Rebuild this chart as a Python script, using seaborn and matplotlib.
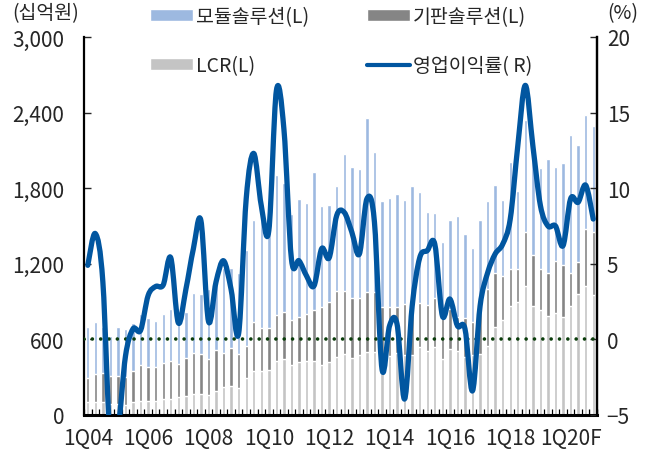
import numpy as np
import pandas as pd
import matplotlib
matplotlib.use("Agg")
import matplotlib.pyplot as plt
import seaborn as sns
from matplotlib.path import Path
from matplotlib.patches import PathPatch, Patch
from matplotlib.lines import Line2D

# 1Q04 ~ 4Q20F, 분기별 매출 (십억원) 및 영업이익률 (%)
quarters = [f"{q}Q{y:02d}" for y in range(4, 21) for q in range(1, 5)]
tick_labels = ["1Q04", "1Q06", "1Q08", "1Q10", "1Q12", "1Q14", "1Q16", "1Q18", "1Q20F"]

total = [700, 735, 695, 630, 695, 685, 730, 805, 770, 750, 805, 840, 820, 815, 965, 960,
         1000, 1040, 1170, 1165, 1130, 1310, 1545, 1550, 1560, 1905, 1840, 1595, 1715, 1685, 1925, 1660,
         1665, 1815, 2070, 1965, 1950, 2360, 2090, 1695, 1720, 1755, 1710, 1815, 1770, 1615, 1605, 1375,
         1550, 1580, 1435, 1325, 1550, 1695, 1825, 1710, 2010, 1780, 2345, 2190, 1960, 2035, 1965, 2000,
         2220, 2145, 2380, 2295]
lcr_sub = [294, 325, 333, 312, 311, 302, 352, 397, 378, 378, 413, 426, 405, 450, 492, 484,
           444, 519, 492, 532, 484, 550, 738, 688, 688, 794, 820, 757, 775, 802, 836, 855,
           899, 981, 987, 929, 929, 979, 979, 855, 855, 855, 881, 870, 891, 875, 929, 840,
           840, 775, 770, 735, 855, 1000, 1127, 1106, 1159, 1159, 1455, 1270, 1159, 1127, 1225, 1190,
           1127, 1217, 1476, 1450]
lcr = [100, 106, 100, 87, 87, 80, 103, 108, 108, 114, 127, 127, 146, 151, 167, 167,
       159, 193, 220, 228, 212, 294, 352, 347, 357, 431, 444, 399, 418, 431, 431, 399,
       418, 458, 484, 450, 476, 497, 497, 458, 466, 492, 476, 476, 537, 510, 537, 444,
       524, 510, 458, 480, 484, 545, 696, 757, 865, 894, 1026, 865, 836, 783, 810, 775,
       863, 960, 1026, 950]
margin = [4.9, 7.0, 3.8, -7.0, -6.0, -1.1, 0.7, 0.6, 2.9, 3.5, 3.6, 5.4, 1.1, 3.3, 6.0, 7.85,
          1.2, 3.8, 5.2, 3.3, 0.4, 9.3, 12.3, 8.85, 7.2, 16.45, 13.9, 5.3, 5.2, 4.2, 3.55, 6.0,
          5.4, 8.2, 8.4, 7.1, 5.65, 9.3, 7.75, -1.96, 0.9, 1.0, -3.94, 2.2, 5.4, 5.87, 6.3, 1.57,
          2.67, 0.9, 0.7, -3.4, 2.2, 4.4, 5.65, 6.3, 7.96, 12.8, 16.8, 12.8, 8.85, 7.5, 7.5, 6.2,
          9.3, 9.07, 10.2, 7.96]

df = pd.DataFrame({"q": quarters, "total": total, "lcr_sub": lcr_sub, "lcr": lcr, "margin": margin})

c_module = "#9DB9E0"
c_sub = "#858585"
c_lcr = "#C4C4C4"
c_line = "#0156A0"

sns.set_style("ticks")
plt.rcParams["font.family"] = ["Liberation Sans Narrow", "Noto Sans CJK KR", "DejaVu Sans"]

fig = plt.figure(figsize=(6.5, 4.56), dpi=100)
ax = fig.add_axes([84 / 650, 1 - 416 / 456, (597 - 84) / 650, (416 - 38) / 456])

# stacked bars: draw cumulative totals on top of each other
x = np.arange(len(df))
sns.barplot(x=x, y=df["total"], color=c_module, width=0.45, saturation=1, errorbar=None, ax=ax)
sns.barplot(x=x, y=df["lcr_sub"], color=c_sub, width=0.45, saturation=1, errorbar=None, ax=ax)
sns.barplot(x=x, y=df["lcr"], color=c_lcr, width=0.45, saturation=1, errorbar=None, ax=ax)

ax.set_xlim(-0.5, len(df) - 0.5)
ax.set_ylim(0, 3000)
ax.set_yticks(range(0, 3001, 600))
ax.set_yticklabels([f"{v:,}" for v in range(0, 3001, 600)])
ax.set_xticks(np.arange(-0.5, len(df), 1))
ax.set_xticklabels([])
ax.set_xticks(np.arange(0, len(df), 8), minor=True)
ax.set_xticklabels(tick_labels, minor=True)
ax.tick_params(axis="x", which="major", direction="in", length=4, width=1, color="black")
ax.tick_params(axis="x", which="minor", length=0, pad=9, labelsize=15)
ax.tick_params(axis="y", direction="in", length=5, width=1, pad=14, labelsize=15)
ax.set_xlabel("")
ax.set_ylabel("")
for s in ["left", "right"]:
    ax.spines[s].set_linewidth(1.6)
    ax.spines[s].set_color("black")
ax.spines["bottom"].set_linewidth(2.2)
ax.spines["bottom"].set_color("black")
ax.spines["top"].set_visible(False)

ax2 = ax.twinx()
ax2.set_ylim(-5, 20)
ax2.set_yticks(range(-5, 21, 5))
ax2.set_yticklabels(["\u22125", "0", "5", "10", "15", "20"])
ax2.tick_params(axis="y", direction="in", length=5, width=1, pad=7, labelsize=15)
ax2.spines["top"].set_visible(False)
ax2.spines["right"].set_linewidth(1.6)
ax2.spines["right"].set_color("black")
ax2.spines["left"].set_visible(False)
ax2.spines["bottom"].set_visible(False)

ax2.axhline(0, color="#0B3D0B", lw=2.6, linestyle=(0, (0.01, 2.3)), dash_capstyle="round", zorder=2)

# Excel-style smoothed line (Catmull-Rom as cubic Bezier)
ym = df["margin"].to_numpy()
n = len(x)
verts = [(x[0], ym[0])]
codes = [Path.MOVETO]
for i in range(n - 1):
    xp, yp = (x[i - 1], ym[i - 1]) if i > 0 else (x[i], ym[i])
    xn, yn = (x[i + 2], ym[i + 2]) if i + 2 < n else (x[i + 1], ym[i + 1])
    c1 = (x[i] + (x[i + 1] - xp) / 6, ym[i] + (ym[i + 1] - yp) / 6)
    c2 = (x[i + 1] - (xn - x[i]) / 6, ym[i + 1] - (yn - ym[i]) / 6)
    verts += [c1, c2, (x[i + 1], ym[i + 1])]
    codes += [Path.CURVE4] * 3
ax2.add_patch(PathPatch(Path(verts, codes), facecolor="none", edgecolor=c_line,
                        lw=3.8, capstyle="round", joinstyle="round", zorder=3))

fig.text(12 / 650, 1 - 14 / 456, "(십억원)", fontsize=14, ha="left", va="center")
fig.text(607 / 650, 1 - 14 / 456, "(%)", fontsize=14, ha="left", va="center")

handles = [Patch(facecolor=c_module), Patch(facecolor=c_lcr),
           Patch(facecolor=c_sub), Line2D([], [], color=c_line, lw=3)]
labels = ["모듈솔루션(L)", "LCR(L)", "기판솔루션(L)", "영업이익률( R)"]
fig.legend(handles, labels, ncol=2, loc="upper left", bbox_to_anchor=(150 / 650, 1 - 7 / 456),
           frameon=False, handlelength=2.2, handleheight=0.55, handletextpad=0.15,
           columnspacing=3.0, labelspacing=1.45, borderaxespad=0, borderpad=0, fontsize=14)

fig.savefig("out.png", dpi=100)
